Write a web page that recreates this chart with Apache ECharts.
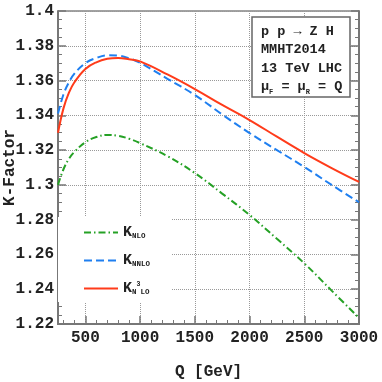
<!DOCTYPE html>
<html><head><meta charset="utf-8">
<script src="https://cdn.jsdelivr.net/npm/echarts@6/dist/echarts.min.js"></script>
<style>html,body{margin:0;padding:0;background:#fff}#c{width:382px;height:382px}</style>
</head><body><div id="c"></div>
<script>
const Q      = [250, 300, 350, 400, 500, 600, 700, 800, 900, 1000, 1250, 1500, 1750, 2000, 2250, 2500, 2750, 3000];
const kNLO   = [1.300, 1.309, 1.315, 1.319, 1.3245, 1.3275, 1.3287, 1.3282, 1.3265, 1.3240, 1.3165, 1.3068, 1.2950, 1.2827, 1.2690, 1.2549, 1.2392, 1.2235];
const kNNLO  = [1.341, 1.352, 1.359, 1.364, 1.3700, 1.3730, 1.3745, 1.3743, 1.3728, 1.3702, 1.3610, 1.3517, 1.3405, 1.3298, 1.3200, 1.3103, 1.3000, 1.2900];
const kN3LO  = [1.330, 1.344, 1.353, 1.359, 1.3667, 1.3705, 1.3725, 1.3730, 1.3722, 1.3710, 1.3635, 1.3551, 1.3460, 1.3373, 1.3277, 1.3183, 1.3097, 1.3017];
const seriesNames = ['NLO', 'NNLO', 'N3LO'];
const legendLabels = ['{k|K}{s|NLO}', '{k|K}{s|NNLO}', '{k|K}{s|N}{p|3}{s|LO}'];
const xMajorTicks = [500, 1000, 1500, 2000, 2500, 3000];
const xMinorTicks = [300, 400, 600, 700, 800, 900, 1100, 1200, 1300, 1400, 1600, 1700, 1800, 1900, 2100, 2200, 2300, 2400, 2600, 2700, 2800, 2900];
const boxLines = ['p p → Z H', 'MMHT2014', '13 TeV LHC'];

const FONT = "'Liberation Mono', 'DejaVu Sans Mono', monospace";
const pairs = a => Q.map((q, i) => [q, a[i]]);
const axisGray = '#777';
const gridGray = '#999';

const xBase = {
  type: 'value', min: 250, max: 3000, position: 'bottom',
  axisLine: { show: true, onZero: false, lineStyle: { color: axisGray, width: 2 } }
};
const yBase = {
  type: 'value', min: 1.22, max: 1.4, interval: 0.02,
  axisLine: { show: true, lineStyle: { color: axisGray, width: 2 } },
  axisTick: { show: true, inside: true, length: 8, lineStyle: { color: axisGray, width: 1.5 } },
  minorTick: { show: true, splitNumber: 4, length: 4, lineStyle: { color: axisGray, width: 1 } }
};

const option = {
  animation: false,
  backgroundColor: '#fff',
  grid: { left: 58, right: 23, top: 11, bottom: 58, show: true, borderColor: '#444', borderWidth: 1,
          containLabel: false, outerBoundsMode: 'none' },
  title: {
    left: 252, top: 17,
    padding: [5, 8, 1, 9],
    backgroundColor: '#fff', borderColor: '#666', borderWidth: 1.5,
    text: boxLines.map(l => '{a|' + l + '}').join('\n') + '\n{a|μ}{s|F}{a| = μ}{s|R}{a| = Q}',
    textStyle: {
      fontFamily: FONT, fontWeight: 'bold', fontSize: 13.5, color: '#222', lineHeight: 18.5,
      rich: {
        a: { fontFamily: FONT, fontWeight: 'bold', fontSize: 13.5, color: '#222', lineHeight: 18.5 },
        s: { fontFamily: FONT, fontWeight: 'bold', fontSize: 7, color: '#222', verticalAlign: 'bottom', lineHeight: 18.5, padding: [6, 0, 0, 0] }
      }
    }
  },
  legend: {
    orient: 'vertical', left: 58, top: 217,
    padding: [8, 22, 6, 25], itemGap: 13,
    itemWidth: 34, itemHeight: 14,
    backgroundColor: '#fff',
    itemStyle: { color: 'rgba(0,0,0,0)', borderColor: 'rgba(0,0,0,0)', borderWidth: 0 },
    data: seriesNames,
    formatter: n => legendLabels[seriesNames.indexOf(n)],
    textStyle: {
      fontFamily: FONT, fontWeight: 'bold', color: '#222',
      rich: {
        k: { fontFamily: FONT, fontWeight: 'bold', fontSize: 15, color: '#222' },
        s: { fontFamily: FONT, fontWeight: 'bold', fontSize: 7.5, color: '#222', verticalAlign: 'bottom', padding: [7, 0, 0, 0] },
        p: { fontFamily: FONT, fontWeight: 'bold', fontSize: 6.5, color: '#222', verticalAlign: 'top', padding: [0, 0, 4, 0] }
      }
    }
  },
  xAxis: [
    Object.assign({}, xBase, {
      name: 'Q [GeV]', nameLocation: 'middle', nameGap: 40, nameMoveOverlap: false,
      nameTextStyle: { fontFamily: FONT, fontWeight: 'bold', fontSize: 16, color: '#222' },
      axisLabel: { customValues: xMajorTicks, fontFamily: FONT, fontWeight: 'bold', fontSize: 16, color: '#222', margin: 6,
        formatter: v => String(v) },
      axisTick: { show: true, inside: true, length: 8, customValues: xMajorTicks, lineStyle: { color: axisGray, width: 1.5 } },
      splitLine: { show: true, lineStyle: { color: gridGray, type: 'dotted', width: 1 } }
    }),
    Object.assign({}, xBase, {
      axisLabel: { show: false },
      axisTick: { show: true, inside: true, length: 4, customValues: xMinorTicks, lineStyle: { color: axisGray, width: 1 } },
      splitLine: { show: false }
    })
  ],
  yAxis: [
    Object.assign({}, yBase, {
      position: 'left',
      name: 'K-Factor', nameLocation: 'middle', nameGap: 40, nameMoveOverlap: false,
      nameTextStyle: { fontFamily: FONT, fontWeight: 'bold', fontSize: 16, color: '#222' },
      axisLabel: { fontFamily: FONT, fontWeight: 'bold', fontSize: 16, color: '#222', margin: 4,
        formatter: v => String(parseFloat(v.toFixed(2))) },
      splitLine: { show: true, lineStyle: { color: gridGray, type: 'dotted', width: 1 } }
    }),
    Object.assign({}, yBase, {
      position: 'right',
      axisLabel: { show: false },
      splitLine: { show: false }
    })
  ],
  series: [
    { name: 'NLO', type: 'line', data: pairs(kNLO), symbol: 'none', smooth: 0.4,
      lineStyle: { color: '#25a125', width: 2, type: [7, 3, 1.5, 3] }, itemStyle: { color: '#25a125' } },
    { name: 'NNLO', type: 'line', data: pairs(kNNLO), symbol: 'none', smooth: 0.4,
      lineStyle: { color: '#1f7ff0', width: 2, type: [8, 4] }, itemStyle: { color: '#1f7ff0' } },
    { name: 'N3LO', type: 'line', data: pairs(kN3LO), symbol: 'none', smooth: 0.4,
      lineStyle: { color: '#ff3b1a', width: 2, type: 'solid' }, itemStyle: { color: '#ff3b1a' } }
  ]
};
echarts.init(document.getElementById('c'), null, { renderer: 'canvas' }).setOption(option);
</script></body></html>
